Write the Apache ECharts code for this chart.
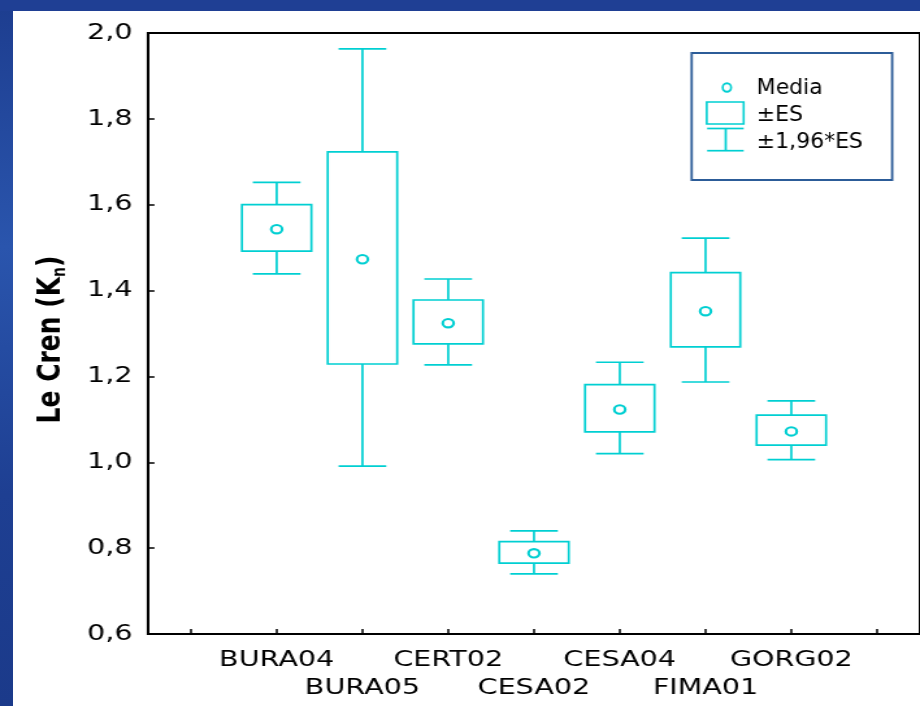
<!DOCTYPE html>
<html>
<head>
<meta charset="utf-8">
<script src="https://cdn.jsdelivr.net/npm/echarts@6/dist/echarts.min.js"></script>
<style>
  html, body { margin:0; padding:0; width:920px; height:706px; overflow:hidden; }
  body { background: linear-gradient(to bottom, #1d3d8f 0%, #2a55ad 35%, #1e3f92 70%, #1b3a8a 100%); position:relative; }
  #topband { position:absolute; left:0; top:0; width:920px; height:11px; background:#1f3f94; }
  #panel { position:absolute; left:13px; top:11px; width:907px; height:695px; background:#ffffff; }
  #chart { position:absolute; left:0; top:0; width:708px; height:706px; transform:scaleX(1.2994); transform-origin:0 0; }
</style>
</head>
<body>
<div id="topband"></div>
<div id="panel"></div>
<div id="chart"></div>
<script>
// ---- data ----
var categories = ['', 'BURA04', 'BURA05', 'CERT02', 'CESA02', 'CESA04', 'FIMA01', 'GORG02', ''];
var boxSites   = ['BURA04', 'BURA05', 'CERT02', 'CESA02', 'CESA04', 'FIMA01', 'GORG02'];
var means      = [1.543, 1.473, 1.324, 0.788, 1.123, 1.352, 1.072];
var seLow      = [1.492, 1.229, 1.276, 0.765, 1.071, 1.269, 1.040];
var seHigh     = [1.600, 1.723, 1.378, 0.815, 1.181, 1.442, 1.110];
var ciLow      = [1.439, 0.991, 1.227, 0.740, 1.020, 1.187, 1.006];
var ciHigh     = [1.652, 1.963, 1.427, 0.840, 1.233, 1.522, 1.143];
var yTicks     = { min: 0.6, max: 2.0, interval: 0.2 };

var CYAN = '#00cfd2';
var FONT = 'DejaVu Sans';
var SX = 1.2994;          // horizontal stretch of the plot
var UNSX = 1 / SX;        // legend is not stretched

var boxData = boxSites.map(function (s, i) {
  return [categories.indexOf(s), ciLow[i], seLow[i], means[i], seHigh[i], ciHigh[i]];
});

var chart = echarts.init(document.getElementById('chart'), null, { renderer: 'canvas' });

function renderBox(params, api) {
  var x = api.value(0);
  var bw = api.size([1, 0])[0];
  var cx = api.coord([x, api.value(3)])[0];
  var yWL = api.coord([x, api.value(1)])[1];
  var yBL = api.coord([x, api.value(2)])[1];
  var yM  = api.coord([x, api.value(3)])[1];
  var yBH = api.coord([x, api.value(4)])[1];
  var yWH = api.coord([x, api.value(5)])[1];
  var hb = bw * 0.81 / 2, hc = bw * 0.556 / 2;
  var st = { stroke: CYAN, lineWidth: 1.7, fill: null };
  return {
    type: 'group',
    children: [
      { type: 'line', shape: { x1: cx, y1: yBH, x2: cx, y2: yWH }, style: st },
      { type: 'line', shape: { x1: cx - hc, y1: yWH, x2: cx + hc, y2: yWH }, style: st },
      { type: 'line', shape: { x1: cx, y1: yBL, x2: cx, y2: yWL }, style: st },
      { type: 'line', shape: { x1: cx - hc, y1: yWL, x2: cx + hc, y2: yWL }, style: st },
      { type: 'rect', shape: { x: cx - hb, y: yBH, width: 2 * hb, height: yBL - yBH }, style: { stroke: CYAN, lineWidth: 1.7, fill: '#ffffff' } },
      { type: 'circle', shape: { cx: cx, cy: yM, r: 4.2 }, style: { stroke: CYAN, lineWidth: 2.1, fill: '#ffffff' } }
    ]
  };
}

// legend geometry (chart coordinates; page x / 1.2994)
var lgX = 532.3, lgY = 53, lgW = 154.3, lgH = 127;

var option = {
  animation: false,
  backgroundColor: 'transparent',
  textStyle: { fontFamily: FONT },
  grid: { left: 113.9, top: 33, width: 598.0, height: 601, show: true, borderColor: '#000', borderWidth: 2, backgroundColor: 'transparent' },
  xAxis: {
    type: 'category',
    data: categories,
    boundaryGap: true,
    axisLine: { lineStyle: { color: '#000', width: 2 } },
    axisTick: { show: true, inside: true, length: 5, alignWithLabel: true, interval: 0, lineStyle: { color: '#000', width: 1.5 } },
    axisLabel: {
      interval: 0,
      margin: 12,
      color: '#000',
      fontSize: 22,
      fontFamily: FONT,
      lineHeight: 28,
      formatter: function (v, i) {
        if (!v) return '';
        return (i % 2 === 1) ? v : '\n' + v;
      }
    },
    splitLine: { show: false }
  },
  yAxis: {
    type: 'value',
    min: yTicks.min,
    max: yTicks.max,
    interval: yTicks.interval,
    name: '{b|Le Cren (K}{s|n}{b|)}',
    nameLocation: 'middle',
    nameRotate: 90,
    nameGap: 60.5,
    nameTextStyle: {
      padding: [0, 12, 0, 0],
      rich: {
        b: { fontSize: 25, fontWeight: 'bold', fontFamily: FONT, color: '#000', lineHeight: 28 },
        s: { fontSize: 14, fontWeight: 'bold', fontFamily: FONT, color: '#000', lineHeight: 14, verticalAlign: 'bottom' }
      }
    },
    axisLine: { show: true, lineStyle: { color: '#000', width: 1.8 } },
    axisTick: { show: true, inside: true, length: 5, lineStyle: { color: '#000', width: 1.5 } },
    axisLabel: {
      margin: 12,
      color: '#000',
      fontSize: 22,
      fontFamily: FONT,
      formatter: function (v) { return v.toFixed(1).replace('.', ','); }
    },
    splitLine: { show: false }
  },
  series: [{
    type: 'custom',
    renderItem: renderBox,
    data: boxData,
    encode: { x: 0, y: [1, 2, 3, 4, 5] },
    z: 5
  }],
  graphic: [
    { type: 'rect', shape: { x: lgX, y: lgY, width: lgW, height: lgH }, style: { fill: '#ffffff', stroke: '#2c5c98', lineWidth: 1.8 }, z: 10 },
    { type: 'circle', x: 559.4, y: 87.5, scaleX: UNSX, shape: { cx: 0, cy: 0, r: 4.2 }, style: { fill: '#ffffff', stroke: CYAN, lineWidth: 2.1 }, z: 11 },
    { type: 'rect', shape: { x: 543.9, y: 102, width: 28.4, height: 22 }, style: { fill: '#ffffff', stroke: CYAN, lineWidth: 1.6 }, z: 11 },
    { type: 'line', shape: { x1: 544.2, y1: 128.5, x2: 572.3, y2: 128.5 }, style: { stroke: CYAN, lineWidth: 1.7 }, z: 11 },
    { type: 'line', shape: { x1: 558.5, y1: 128.5, x2: 558.5, y2: 150.7 }, style: { stroke: CYAN, lineWidth: 1.7 }, z: 11 },
    { type: 'line', shape: { x1: 544.2, y1: 150.7, x2: 572.3, y2: 150.7 }, style: { stroke: CYAN, lineWidth: 1.7 }, z: 11 },
    { type: 'text', x: 582.3, y: 88, scaleX: UNSX, style: { text: 'Media', fontSize: 22, fontFamily: FONT, fill: '#000', textVerticalAlign: 'middle' }, z: 11 },
    { type: 'text', x: 582.3, y: 115, scaleX: UNSX, style: { text: '±ES', fontSize: 22, fontFamily: FONT, fill: '#000', textVerticalAlign: 'middle' }, z: 11 },
    { type: 'text', x: 582.3, y: 142, scaleX: UNSX, style: { text: '±1,96*ES', fontSize: 22, fontFamily: FONT, fill: '#000', textVerticalAlign: 'middle' }, z: 11 }
  ]
};

chart.setOption(option);
</script>
</body>
</html>
